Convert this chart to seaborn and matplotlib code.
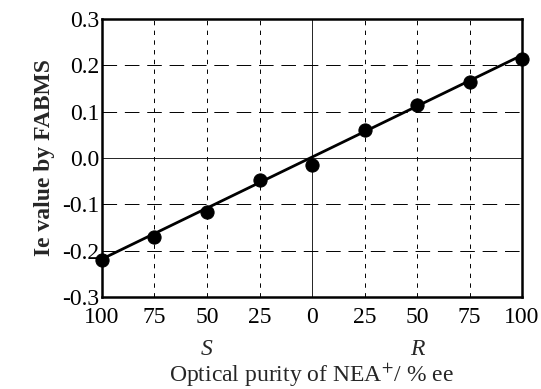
import numpy as np
import pandas as pd
import matplotlib
matplotlib.use("Agg")
import matplotlib.pyplot as plt
import seaborn as sns

# optical purity, S side negative, R side positive
ee = [-100, -75, -50, -25, 0, 25, 50, 75, 100]
ie_value = [-0.22, -0.17, -0.116, -0.048, -0.015, 0.06, 0.115, 0.165, 0.213]
fit_x = [-100, 100]
fit_y = [-0.218, 0.222]
tick_labels = ["100", "75", "50", "25", "0", "25", "50", "75", "100"]

df = pd.DataFrame({"ee": ee, "ie": ie_value})
fit = pd.DataFrame({"ee": fit_x, "ie": fit_y})

sns.set_style("white")
plt.rcParams["font.family"] = ["Liberation Serif", "DejaVu Serif"]
plt.rcParams["mathtext.fontset"] = "stix"

fig = plt.figure(figsize=(5.41, 3.89), dpi=100)
ax = fig.add_axes([0.1885, 0.2365, 0.7765, 0.7145])

# grid lines
for v in [-75, -50, -25, 25, 50, 75]:
    ax.axvline(v, color="black", lw=0.7, ls=(0, (4.5, 5.5)), zorder=1)
for h in [-0.2, -0.1, 0.1, 0.2]:
    ax.axhline(h, color="black", lw=0.7, ls=(0, (15, 8)), zorder=1)
ax.axvline(0, color="black", lw=0.6, zorder=1)
ax.axhline(0, color="black", lw=0.6, zorder=1)

sns.lineplot(data=fit, x="ee", y="ie", color="black", lw=2, ax=ax, zorder=2)
sns.scatterplot(data=df, x="ee", y="ie", color="black", s=90, edgecolor="black",
                ax=ax, zorder=3, clip_on=False)

ax.set_xlim(-100, 100)
ax.set_ylim(-0.3, 0.3)
ax.set_xticks(ee)
ax.set_xticklabels(tick_labels)
ax.set_yticks([-0.3, -0.2, -0.1, 0.0, 0.1, 0.2, 0.3])
ax.set_yticklabels(["-0.3", "-0.2", "-0.1", "0.0", "0.1", "0.2", "0.3"])
ax.tick_params(axis="both", length=0, labelsize=17, colors="black")
ax.tick_params(axis="x", pad=7)
ax.tick_params(axis="y", pad=2)

for s in ax.spines.values():
    s.set_linewidth(1.8)
    s.set_color("black")

ax.set_xlabel("")
ax.set_ylabel("Ie value by FABMS", fontsize=17, fontweight="bold", labelpad=5)

ax.text(-50, -0.39, "S", fontsize=17, style="italic", ha="center", va="top",
        transform=ax.transData)
ax.text(50, -0.39, "R", fontsize=17, style="italic", ha="center", va="top",
        transform=ax.transData)
fig.text(0.575, 0.035, "Optical purity of NEA$^{+}$/ % ee", fontsize=17,
         ha="center", va="center")

fig.savefig("out.png", dpi=100)
